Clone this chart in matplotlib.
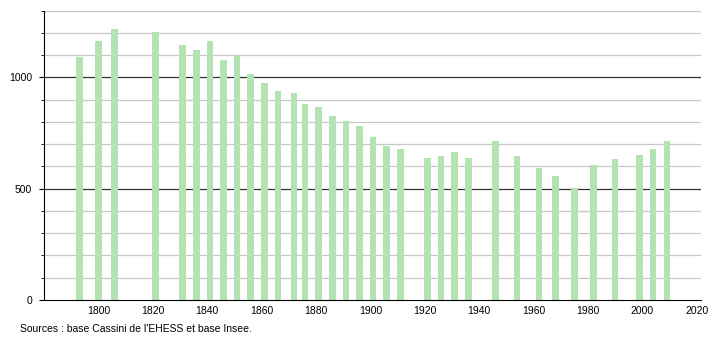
import matplotlib.pyplot as plt
from matplotlib.ticker import MultipleLocator

# Données de population (recensements)
annees = [1793, 1800, 1806, 1821, 1831, 1836, 1841, 1846, 1851, 1856,
          1861, 1866, 1872, 1876, 1881, 1886, 1891, 1896, 1901, 1906,
          1911, 1921, 1926, 1931, 1936, 1946, 1954, 1962, 1968, 1975,
          1982, 1990, 1999, 2004, 2009]
population = [1091, 1163, 1217, 1204, 1145, 1123, 1163, 1078, 1097, 1015,
              975, 939, 930, 880, 867, 826, 804, 781, 732, 692,
              678, 638, 647, 665, 638, 714, 647, 594, 557, 501,
              606, 633, 651, 678, 714]
x_ticks = [1800, 1820, 1840, 1860, 1880, 1900, 1920, 1940, 1960, 1980, 2000, 2020]
y_ticks = [0, 500, 1000]
source = "Sources : base Cassini de l'EHESS et base Insee."

plt.rcParams['font.family'] = ['Liberation Sans', 'DejaVu Sans']

fig = plt.figure(figsize=(7.1, 3.4), dpi=100)
ax = fig.add_axes([0.062, 0.1176, 0.925, 0.8515])

ax.set_xlim(1780, 2021.5)
ax.set_ylim(0, 1300)

# grille : fine tous les 100, foncée à 500 et 1000
ax.yaxis.set_minor_locator(MultipleLocator(100))
ax.grid(True, axis='y', which='minor', color='#c8c8c8', linewidth=0.9)
for v in [500, 1000]:
    ax.axhline(v, color='#333333', linewidth=0.9, zorder=1)

ax.bar(annees, population, width=2.4, color='#b3e3b3', zorder=2)

ax.set_xticks(x_ticks)
ax.set_yticks(y_ticks)
ax.tick_params(axis='x', length=0, pad=4, labelsize=7.5)
ax.tick_params(axis='y', which='major', length=3.6, pad=5, labelsize=7.5)
ax.tick_params(axis='y', which='minor', length=2.2)

ax.spines['top'].set_visible(False)
ax.spines['right'].set_visible(False)
ax.spines['left'].set_color('black')
ax.spines['bottom'].set_color('black')
ax.set_axisbelow(True)

fig.text(0.028, 0.033, source, fontsize=7.5, ha='left', va='center')

fig.savefig('out.png', dpi=100)
